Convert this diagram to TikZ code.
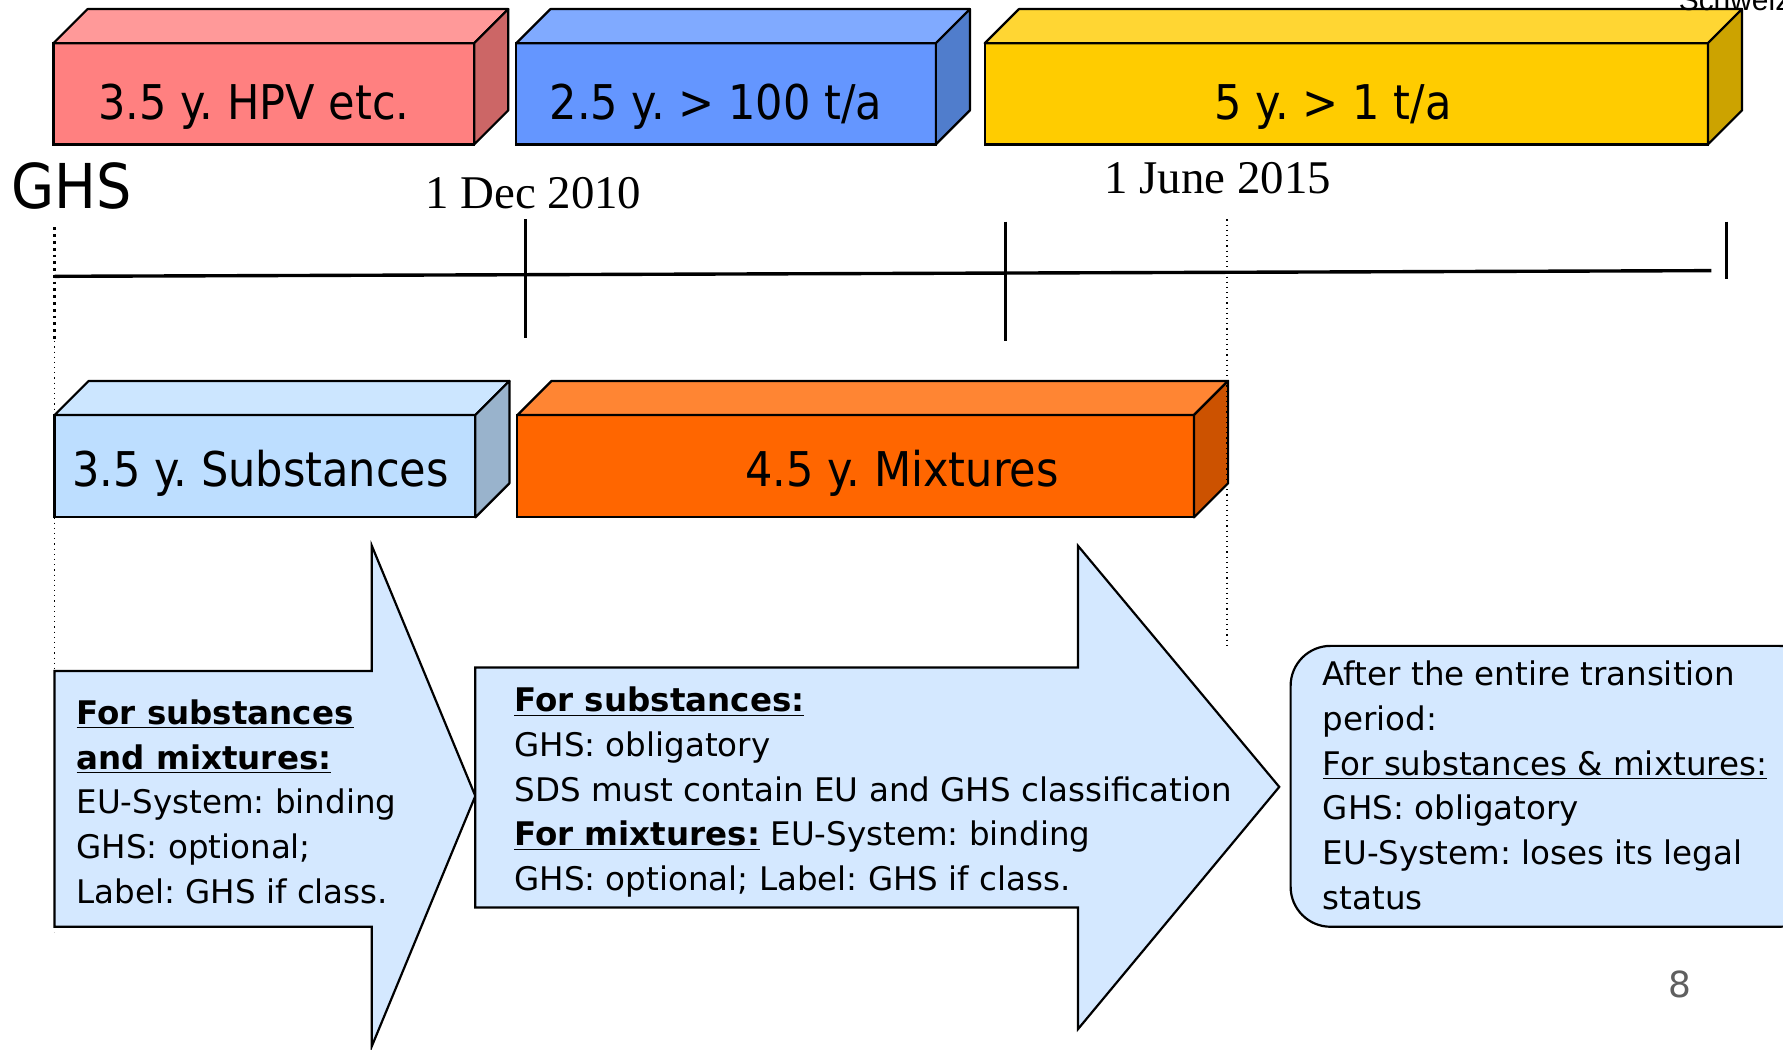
\documentclass[tikz,border=0pt]{standalone}
\usepackage{fontspec}
\setmainfont{DejaVu Sans}
\newfontfamily\barfont[FakeStretch=0.9]{DejaVu Sans}
\newfontfamily\datefont{Liberation Serif}
\newfontfamily\notefont{Liberation Sans}
\usetikzlibrary{calc}
\frenchspacing

\definecolor{hpvfront}{RGB}{255,128,128}
\definecolor{hpvtop}{RGB}{255,153,153}
\definecolor{hpvside}{RGB}{204,102,102}
\definecolor{bigfront}{RGB}{100,150,255}
\definecolor{bigtop}{RGB}{128,170,255}
\definecolor{bigside}{RGB}{80,125,204}
\definecolor{smallfront}{RGB}{255,204,0}
\definecolor{smalltop}{RGB}{255,214,51}
\definecolor{smallside}{RGB}{204,163,0}
\definecolor{subfront}{RGB}{189,222,255}
\definecolor{subtop}{RGB}{204,230,255}
\definecolor{subside}{RGB}{153,179,204}
\definecolor{mixfront}{RGB}{255,102,0}
\definecolor{mixtop}{RGB}{255,133,51}
\definecolor{mixside}{RGB}{204,82,0}
\definecolor{infofill}{RGB}{212,232,255}
\definecolor{pagegray}{RGB}{95,95,95}

\newcommand{\pu}{0.57pt}
% top and side faces of a bar
\newcommand{\barfaces}[3]{%
  \filldraw[face, fill=#2] (#1.north west) -- ++(30,-30) -- ($(#1.north east)+(30,-30)$) -- (#1.north east) -- cycle;
  \filldraw[face, fill=#3] (#1.north east) -- ++(30,-30) -- ($(#1.south east)+(30,-30)$) -- (#1.south east) -- cycle;
}

\tikzset{
  front/.style={draw, line width=1.1pt, inner sep=0pt, outer sep=0pt, anchor=north west},
  face/.style={draw, line width=1.1pt, line join=round},
  barlabel/.style={font=\barfont\fontsize{24}{28}\selectfont, anchor=base west, inner sep=0pt},
  datelabel/.style={font=\datefont\fontsize{23.5}{28}\selectfont, anchor=base, inner sep=0pt},
  infotext/.style={align=left, anchor=north west, inner sep=0pt, font=\fontsize{16.3}{22.4}\selectfont},
  callout/.style={draw, line width=1.1pt, fill=infofill, line join=miter},
  tick/.style={line width=1.4pt},
}

\begin{document}
\begin{tikzpicture}[x=0.57pt, y=-0.57pt]
    \useasboundingbox (0,0) rectangle (1568,923);

    % bars, upper row
    \node[front, fill=hpvfront, minimum width=370*\pu, minimum height=89*\pu] (hpv) at (47,38) {};
    \barfaces{hpv}{hpvtop}{hpvside}
    \node[front, fill=bigfront, minimum width=369*\pu, minimum height=89*\pu] (big) at (454,38) {};
    \barfaces{big}{bigtop}{bigside}
    \node[front, fill=smallfront, minimum width=636*\pu, minimum height=89*\pu] (small) at (866,38) {};
    \barfaces{small}{smalltop}{smallside}
    \node[barlabel] (hpvlbl) at (86,105) {3.5 y. HPV etc.};
    \node[barlabel] (biglbl) at (483,105) {2.5 y. > 100 t/a};
    \node[barlabel] (smalllbl) at (1068,105) {5 y. > 1 t/a};

    % bars, lower row
    \node[front, fill=subfront, minimum width=370*\pu, minimum height=90*\pu] (sub) at (48,365) {};
    \barfaces{sub}{subtop}{subside}
    \node[front, fill=mixfront, minimum width=595*\pu, minimum height=90*\pu] (mix) at (455,365) {};
    \barfaces{mix}{mixtop}{mixside}
    \node[barlabel] (sublbl) at (63,428) {3.5 y. Substances};
    \node[barlabel] (mixlbl) at (655,428) {4.5 y. Mixtures};

    % time line
    \node[font=\barfont\fontsize{31}{36}\selectfont, anchor=base west, inner sep=0pt] (ghs) at (10,183) {GHS};
    \node[datelabel] (dec) at (469,183) {1 Dec 2010};
    \node[datelabel] (june) at (1071,170) {1 June 2015};
    \coordinate (t0) at (48,243);
    \coordinate (t1) at (1505,238);
    \draw[line width=1.7pt] (t0) -- (t1);
    \draw[tick] (462,193) -- (462,297);
    \draw[tick] (884,195) -- (884,300);
    \draw[tick] (1518,195) -- (1518,245);
    \draw[line width=1.4pt, dotted] (48,200) -- (48,300);
    \draw[line width=0.6pt, dotted] (48,300) -- (48,820);
    \draw[line width=0.6pt, dotted] (1079,193) -- (1079,570);

    % arrows and final box
    \filldraw[callout] (48,590) -- (327,590) -- (327,480) -- (418,700) -- (327,920) -- (327,815) -- (48,815) -- cycle;
    \filldraw[callout] (418,587) -- (948,587) -- (948,480) -- (1125,692) -- (948,905) -- (948,798) -- (418,798) -- cycle;
    \filldraw[callout, rounded corners=20pt] (1135,568) rectangle (1600,815);

    \node[infotext] (phaseone) at (67,615) {\underline{\textbf{For substances}}\\
        \underline{\textbf{and mixtures:}}\\ EU-System: binding\\ GHS: optional;\\ Label: GHS if class.};
    \node[infotext] (phasetwo) at (452,604) {\underline{\textbf{For substances:}}\\ GHS: obligatory\\
        SDS must contain EU and GHS classification\\ \underline{\textbf{For mixtures:}} EU-System: binding\\
        GHS: optional; Label: GHS if class.};
    \node[infotext] (final) at (1163,581) {After the entire transition\\ period:\\
        \underline{For substances \& mixtures:}\\ GHS: obligatory\\ EU-System: loses its legal\\ status};

    \node[text=pagegray, font=\fontsize{18}{20}\selectfont] (pageno) at (1477,866) {8};
    \node[font=\notefont\fontsize{15}{18}\selectfont, anchor=base west, inner sep=0pt] (country) at (1476,9) {Schweiz};
\end{tikzpicture}
\end{document}
